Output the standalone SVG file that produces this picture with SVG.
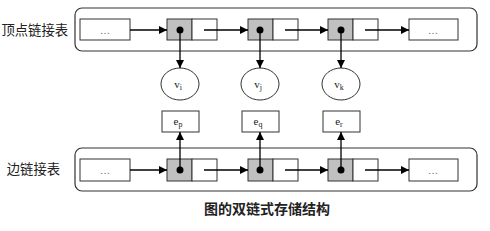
<svg xmlns="http://www.w3.org/2000/svg" width="490" height="231" viewBox="0 0 490 231">
<defs>
<marker id="ah" viewBox="0 0 10 10" refX="10" refY="5" markerWidth="8" markerHeight="8" markerUnits="userSpaceOnUse" orient="auto"><path d="M0,0 L10,5 L0,10 z" fill="#000"/></marker>
<style>
.cont{fill:#fff;stroke:#333;stroke-width:1.2}
.box{fill:#fff;stroke:#333;stroke-width:1}
.gray{fill:#c0c0c0;stroke:#333;stroke-width:1}
.ln{stroke:#000;stroke-width:1.3;fill:none;marker-end:url(#ah)}
.dot{fill:#000}
.ell{fill:#fff;stroke:#333;stroke-width:1}
.lbl{font-family:"Liberation Serif",serif;font-size:11px;fill:#222}
.dots{font-family:"Liberation Serif",serif;font-size:10px;fill:#666}
.cn{font-family:"Noto Sans CJK SC",sans-serif;font-size:13.3px;fill:#222}
.cap{font-family:"Noto Sans CJK SC",sans-serif;font-size:14px;font-weight:bold;fill:#222}
</style>
</defs>
<rect width="490" height="231" fill="#fff"/>
<text class="cn" x="68" y="35" text-anchor="end">顶点链接表</text>
<text class="cn" x="60" y="174" text-anchor="end">边链接表</text>
<text class="cap" x="267" y="214" text-anchor="middle">图的双链式存储结构</text>
<g id="vertexList">
<rect class="cont" x="75" y="8" width="402" height="43" rx="7"/>
<rect class="box" x="80" y="19" width="50" height="21"/>
<text class="dots" x="105" y="34" text-anchor="middle">…</text>
<rect class="box" x="409" y="19" width="49" height="21"/>
<text class="dots" x="433" y="34" text-anchor="middle">…</text>
</g>
<g id="vnode1"><rect class="gray" x="167" y="19" width="25" height="21"/><rect class="box" x="192" y="19" width="25" height="21"/></g>
<g id="vnode2"><rect class="gray" x="248" y="19" width="25" height="21"/><rect class="box" x="273" y="19" width="25" height="21"/></g>
<g id="vnode3"><rect class="gray" x="328" y="19" width="25" height="21"/><rect class="box" x="353" y="19" width="25" height="21"/></g>
<g id="vi"><ellipse class="ell" cx="180" cy="84" rx="19" ry="16"/><text class="lbl" x="178" y="88" text-anchor="middle">v<tspan font-size="8" dy="2">i</tspan></text></g>
<g id="vj"><ellipse class="ell" cx="260" cy="84" rx="19" ry="16"/><text class="lbl" x="258" y="88" text-anchor="middle">v<tspan font-size="8" dy="2">j</tspan></text></g>
<g id="vk"><ellipse class="ell" cx="341" cy="84" rx="19" ry="16"/><text class="lbl" x="339" y="88" text-anchor="middle">v<tspan font-size="8" dy="2">k</tspan></text></g>
<g id="edgeList">
<rect class="cont" x="75" y="148" width="402" height="43" rx="7"/>
<rect class="box" x="80" y="159" width="50" height="22"/>
<text class="dots" x="105" y="174" text-anchor="middle">…</text>
<rect class="box" x="409" y="159" width="49" height="22"/>
<text class="dots" x="433" y="174" text-anchor="middle">…</text>
</g>
<g id="enode1"><rect class="gray" x="167" y="159" width="25" height="22"/><rect class="box" x="192" y="159" width="25" height="22"/></g>
<g id="enode2"><rect class="gray" x="248" y="159" width="25" height="22"/><rect class="box" x="273" y="159" width="25" height="22"/></g>
<g id="enode3"><rect class="gray" x="328" y="159" width="25" height="22"/><rect class="box" x="353" y="159" width="25" height="22"/></g>
<g id="ep"><rect class="box" x="162" y="111" width="37" height="21"/><text class="lbl" x="178" y="125" text-anchor="middle">e<tspan font-size="8" dy="2">p</tspan></text></g>
<g id="eq"><rect class="box" x="242" y="111" width="37" height="21"/><text class="lbl" x="258" y="125" text-anchor="middle">e<tspan font-size="8" dy="2">q</tspan></text></g>
<g id="er"><rect class="box" x="323" y="111" width="37" height="21"/><text class="lbl" x="339" y="125" text-anchor="middle">e<tspan font-size="8" dy="2">r</tspan></text></g>
<g id="connectors">
<line class="ln" x1="130" y1="30" x2="167" y2="30"/>
<line class="ln" x1="204" y1="30" x2="248" y2="30"/>
<line class="ln" x1="285" y1="30" x2="328" y2="30"/>
<line class="ln" x1="365" y1="30" x2="409" y2="30"/>
<line class="ln" x1="180" y1="30" x2="180" y2="68"/>
<line class="ln" x1="260" y1="30" x2="260" y2="68"/>
<line class="ln" x1="341" y1="30" x2="341" y2="68"/>
<circle class="dot" cx="180" cy="30" r="3.5"/>
<circle class="dot" cx="260" cy="30" r="3.5"/>
<circle class="dot" cx="341" cy="30" r="3.5"/>
<line class="ln" x1="130" y1="170" x2="167" y2="170"/>
<line class="ln" x1="204" y1="170" x2="248" y2="170"/>
<line class="ln" x1="285" y1="170" x2="328" y2="170"/>
<line class="ln" x1="365" y1="170" x2="409" y2="170"/>
<line class="ln" x1="180" y1="170" x2="180" y2="132"/>
<line class="ln" x1="260" y1="170" x2="260" y2="132"/>
<line class="ln" x1="341" y1="170" x2="341" y2="132"/>
<circle class="dot" cx="180" cy="170" r="3.5"/>
<circle class="dot" cx="260" cy="170" r="3.5"/>
<circle class="dot" cx="341" cy="170" r="3.5"/>
</g>
</svg>
